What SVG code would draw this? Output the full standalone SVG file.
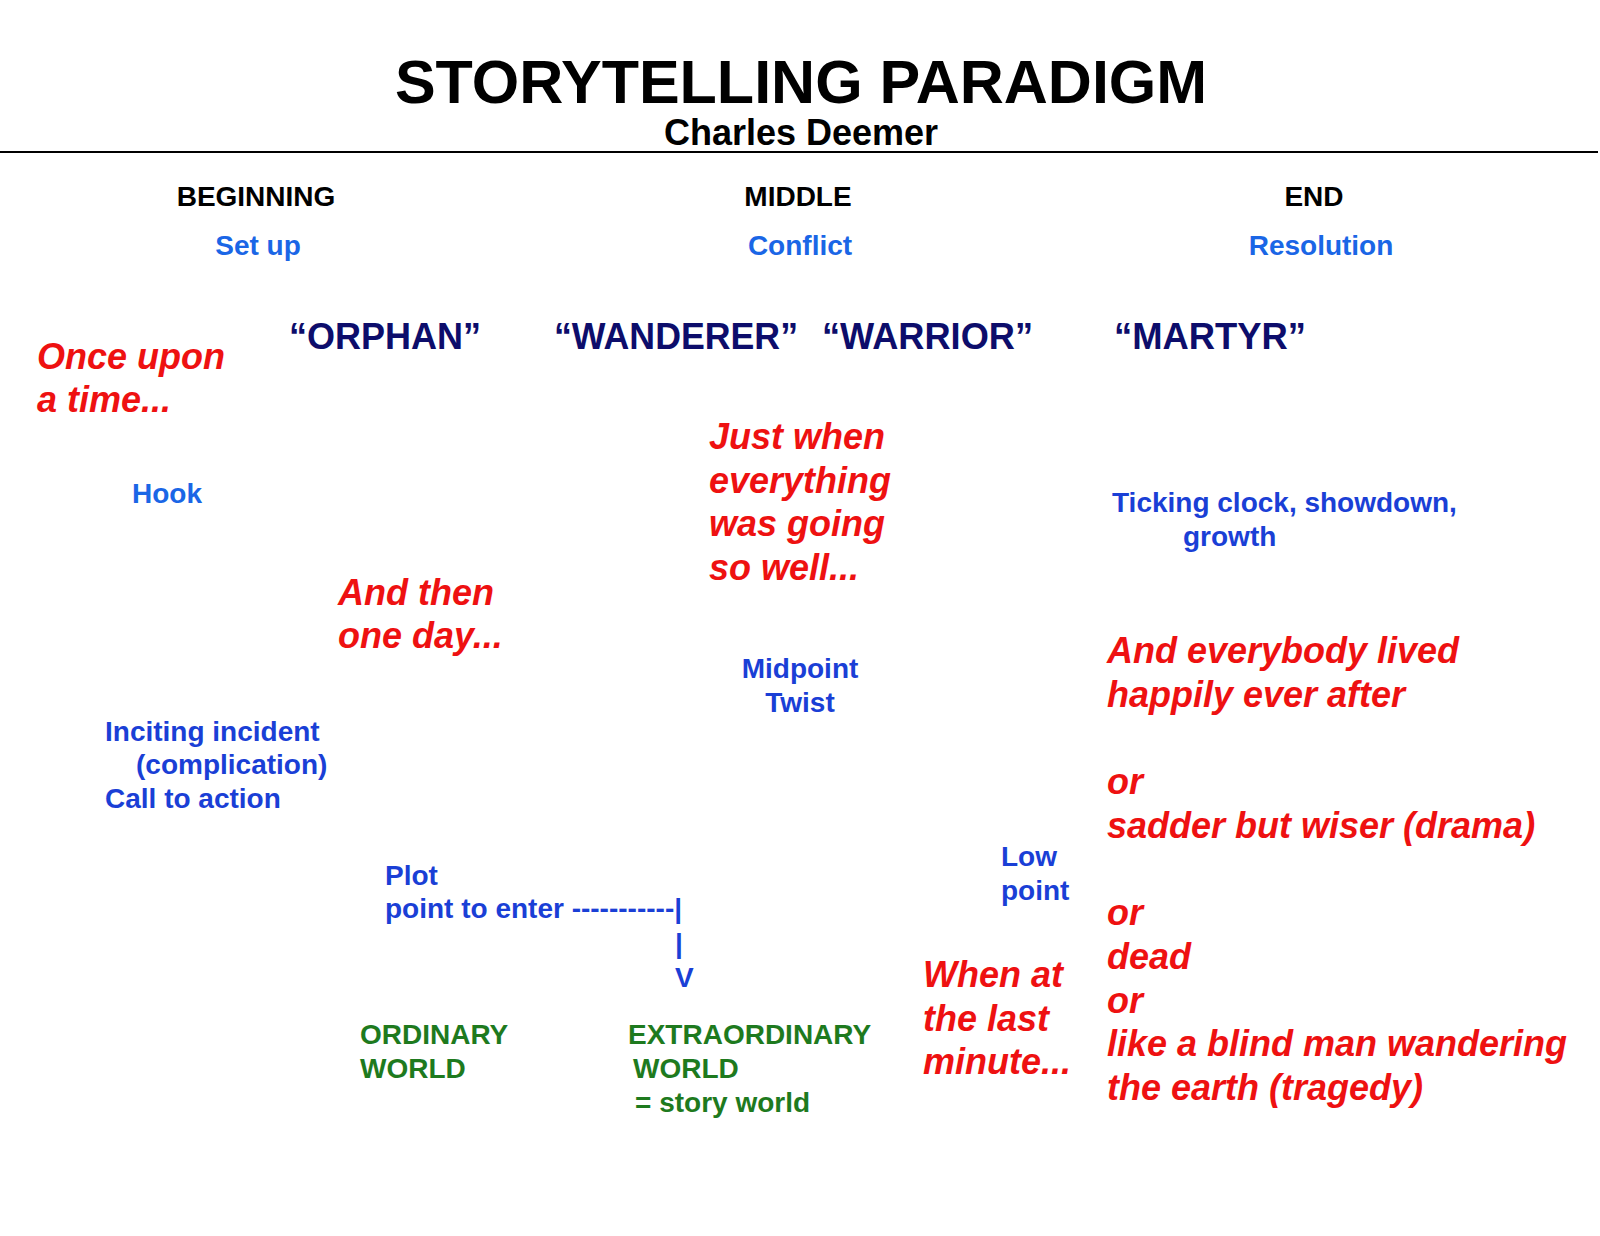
<svg xmlns="http://www.w3.org/2000/svg" width="1600" height="1236" viewBox="0 0 1600 1236">
<style>
text{font-family:"Liberation Sans",Arial,sans-serif;font-weight:bold}
.title{font-size:61px;fill:#000}
.sub{font-size:36px;fill:#000}
.head{font-size:28px;fill:#000}
.lb{font-size:28px;fill:#1a66e6}
.db{font-size:28px;fill:#1a3fd6}
.arch{font-size:36px;fill:#0d0d6b}
.red{font-size:36px;fill:#ee1111;font-style:italic}
.grn{font-size:28px;fill:#1e7a1e}
.mid{text-anchor:middle}
</style>
<rect width="1600" height="1236" fill="#fff"/>
<g id="title">
<text class="title mid" x="801" y="103">STORYTELLING PARADIGM</text>
<text class="sub mid" x="801" y="145">Charles Deemer</text>
</g>
<g id="connectors">
<line x1="0" y1="152" x2="1598" y2="152" stroke="#000" stroke-width="2"/>
</g>
<g id="headers">
<text class="head mid" x="256" y="206">BEGINNING</text>
<text class="head mid" x="798" y="206">MIDDLE</text>
<text class="head mid" x="1314" y="206">END</text>
<text class="lb mid" x="258" y="255">Set up</text>
<text class="lb mid" x="800" y="255">Conflict</text>
<text class="lb mid" x="1321" y="255">Resolution</text>
</g>
<g id="archetypes">
<text class="arch" x="289" y="349" textLength="192" lengthAdjust="spacingAndGlyphs">“ORPHAN”</text>
<text class="arch" x="554" y="349" textLength="244" lengthAdjust="spacingAndGlyphs">“WANDERER”</text>
<text class="arch" x="822" y="349" textLength="211" lengthAdjust="spacingAndGlyphs">“WARRIOR”</text>
<text class="arch" x="1114" y="349" textLength="192" lengthAdjust="spacingAndGlyphs">“MARTYR”</text>
</g>
<g id="once-upon">
<text class="red" x="37" y="369">Once upon</text>
<text class="red" x="37" y="412">a time...</text>
</g>
<g id="hook"><text class="lb" x="132" y="503">Hook</text></g>
<g id="and-then">
<text class="red" x="338" y="605">And then</text>
<text class="red" x="338" y="648">one day...</text>
</g>
<g id="inciting">
<text class="db" x="105" y="741">Inciting incident</text>
<text class="db" x="136" y="774">(complication)</text>
<text class="db" x="105" y="808">Call to action</text>
</g>
<g id="plot-point">
<text class="db" x="385" y="885">Plot</text>
<text class="db" x="385" y="918">point to enter -----------|</text>
<text class="db" x="675" y="953">|</text>
<text class="db" x="675" y="987">V</text>
</g>
<g id="ordinary">
<text class="grn" x="360" y="1044">ORDINARY</text>
<text class="grn" x="360" y="1078">WORLD</text>
</g>
<g id="extraordinary">
<text class="grn" x="628" y="1044">EXTRAORDINARY</text>
<text class="grn" x="633" y="1078">WORLD</text>
<text class="grn" x="635" y="1112">= story world</text>
</g>
<g id="just-when">
<text class="red" x="709" y="449">Just when</text>
<text class="red" x="709" y="493">everything</text>
<text class="red" x="709" y="536">was going</text>
<text class="red" x="709" y="580">so well...</text>
</g>
<g id="midpoint">
<text class="db mid" x="800" y="678">Midpoint</text>
<text class="db mid" x="800" y="712">Twist</text>
</g>
<g id="ticking">
<text class="db" x="1112" y="512">Ticking clock, showdown,</text>
<text class="db" x="1183" y="546">growth</text>
</g>
<g id="low-point">
<text class="db" x="1001" y="866">Low</text>
<text class="db" x="1001" y="900">point</text>
</g>
<g id="last-minute">
<text class="red" x="923" y="987">When at</text>
<text class="red" x="923" y="1031">the last</text>
<text class="red" x="923" y="1074">minute...</text>
</g>
<g id="endings">
<text class="red" x="1107" y="663">And everybody lived</text>
<text class="red" x="1107" y="707">happily ever after</text>
<text class="red" x="1107" y="794">or</text>
<text class="red" x="1107" y="838">sadder but wiser (drama)</text>
<text class="red" x="1107" y="925">or</text>
<text class="red" x="1107" y="969">dead</text>
<text class="red" x="1107" y="1013">or</text>
<text class="red" x="1107" y="1056">like a blind man wandering</text>
<text class="red" x="1107" y="1100">the earth (tragedy)</text>
</g>
</svg>
